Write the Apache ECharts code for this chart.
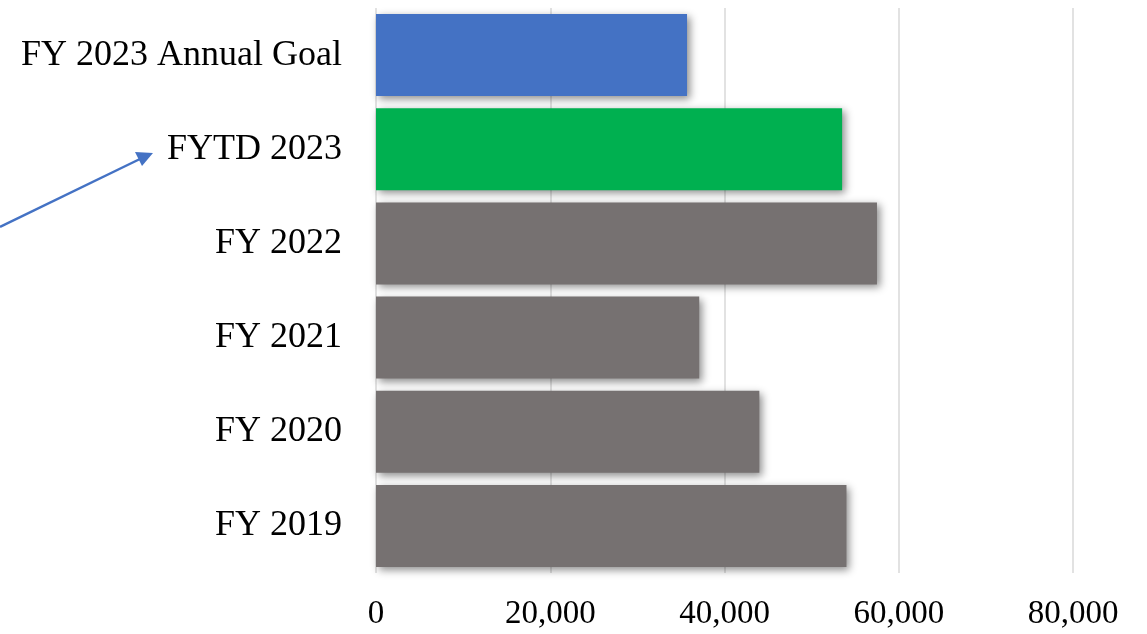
<!DOCTYPE html>
<html>
<head>
<meta charset="utf-8">
<script src="https://cdn.jsdelivr.net/npm/echarts@6/dist/echarts.min.js"></script>
<style>
  html, body { margin: 0; padding: 0; background: #fff; }
  #chart { width: 1147px; height: 634px; }
</style>
</head>
<body>
<div id="chart"></div>
<script>
// categories bottom to top (ECharts category axis starts at the bottom)
const categories = ['FY 2019', 'FY 2020', 'FY 2021', 'FY 2022', 'FYTD 2023', 'FY 2023 Annual Goal']
const values = [54000, 44000, 37100, 57500, 53500, 35700]
const barColors = ['#767171', '#767171', '#767171', '#767171', '#00B050', '#4472C4']
const xTicks = [0, 20000, 40000, 60000, 80000]

const chart = echarts.init(document.getElementById('chart'))

const font = '"Liberation Serif", "DejaVu Serif", serif'

const option = {
  animation: false,
  grid: {
    left: 376,
    right: 74,
    top: 8,
    bottom: 61
  },
  xAxis: {
    type: 'value',
    min: xTicks[0],
    max: xTicks[xTicks.length - 1],
    interval: 20000,
    axisLine: { show: false },
    axisTick: { show: false },
    axisLabel: {
      color: '#000',
      fontFamily: font,
      fontSize: 33,
      margin: 25,
      formatter: (v) => v.toLocaleString('en-US')
    },
    splitLine: {
      lineStyle: { color: '#d9d9d9', width: 1.5 }
    }
  },
  yAxis: {
    type: 'category',
    data: categories,
    axisLine: { show: false },
    axisTick: { show: false },
    axisLabel: {
      color: '#000',
      fontFamily: font,
      fontSize: 36,
      margin: 34
    }
  },
  series: [
    {
      type: 'bar',
      barCategoryGap: '13%',
      data: values.map((v, i) => ({
        value: v,
        itemStyle: { color: barColors[i] }
      })),
      itemStyle: {
        shadowColor: 'rgba(0,0,0,0.45)',
        shadowBlur: 8,
        shadowOffsetX: 3,
        shadowOffsetY: 3
      }
    }
  ],
  graphic: [
    {
      type: 'line',
      shape: { x1: 0, y1: 227, x2: 142, y2: 158 },
      style: { stroke: '#4472C4', lineWidth: 2.5 }
    },
    {
      type: 'polygon',
      shape: { points: [[153, 153], [135, 152], [142, 166]] },
      style: { fill: '#4472C4' }
    }
  ]
}

chart.setOption(option)
</script>
</body>
</html>
